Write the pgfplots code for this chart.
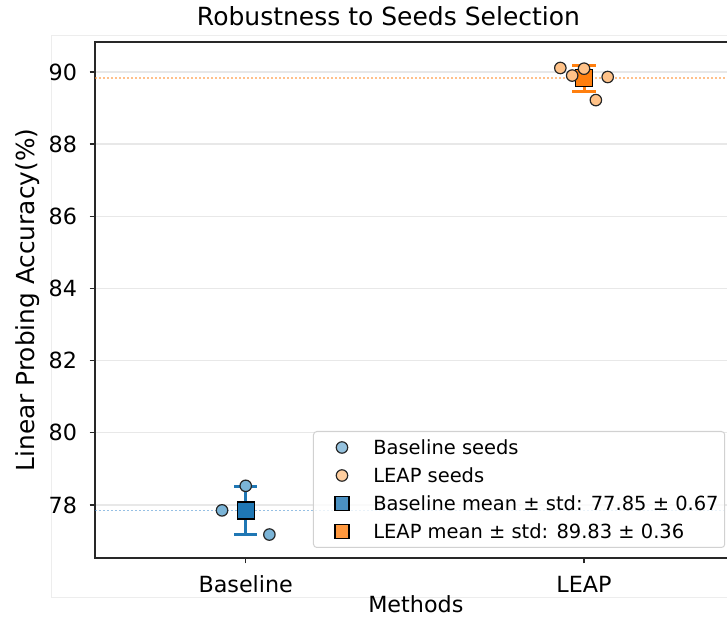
\documentclass[border=0pt]{standalone}
\usepackage{fontspec}
\setmainfont{DejaVu Sans}
\usepackage{pgfplots}
\usepackage{pgfplotstable}
\pgfplotsset{compat=1.18}
\definecolor{tabblue}{RGB}{31,119,180}
\definecolor{taborange}{RGB}{255,127,14}
\definecolor{seedblue}{RGB}{123,180,215}
\definecolor{seedorange}{RGB}{255,194,136}
\definecolor{meanblue}{RGB}{80,150,210}
\definecolor{meanorange}{RGB}{255,150,60}
\definecolor{gridgray}{RGB}{232,232,232}
\definecolor{spine}{RGB}{40,40,40}

\pgfplotstableread{
x y
-0.07 77.85
0.00 78.53
0.07 77.18
}\baselineseeds
\pgfplotstableread{
x y
0.93 90.11
0.965 89.90
1.00 90.09
1.035 89.22
1.07 89.86
}\leapseeds

\pgfplotsset{
  myleg/.style={legend image code/.code={\path (0pt,0pt) (39.5pt,0pt); \draw[##1] plot coordinates {(18.4pt,0pt)};}},
}

\begin{document}
\begin{tikzpicture}[x=1pt,y=1pt]
\path[use as bounding box] (-71.25,-44.25) rectangle (474,418.5);
\draw[black!7, line width=0.75pt] (480,391.5) -- (-32.25,391.5) -- (-32.25,-29.25) -- (480,-29.25);
\begin{axis}[
  at={(0pt,0pt)}, anchor=south west,
  scale only axis, width=480pt, height=387pt,
  xmin=-0.4455, xmax=1.4463, ymin=76.53, ymax=90.83,
  axis line style={spine, line width=1.1pt},
  tick style={spine, line width=1pt},
  tick align=outside, tick pos=left,
  major tick length=4.1pt,
  xtick={0,1}, xticklabels={Baseline,LEAP},
  ytick={78,80,82,84,86,88,90},
  ymajorgrids, grid style={gridgray, line width=1pt},
  /pgf/number format/assume math mode=true,
  ticklabel style={font=\fontsize{16.7}{20}\selectfont},
  xticklabel style={anchor=base, yshift=-21.5pt},
  yticklabel style={anchor=east, inner sep=0pt, xshift=-9.2pt},
  title={Robustness to Seeds Selection},
  title style={at={(axis description cs:0.4586,1.0174)}, anchor=base, font=\fontsize{18.75}{22}\selectfont, inner sep=0pt},
  xlabel={Methods},
  xlabel style={at={(axis description cs:0.5013,-0.106)}, anchor=base, font=\fontsize{16.7}{20}\selectfont, inner sep=0pt},
  ylabel={Linear Probing Accuracy(\%)},
  ylabel style={at={(axis description cs:-0.0938,0.5)}, anchor=base, font=\fontsize{18.6}{22}\selectfont, inner sep=0pt},
  legend cell align=left,
  legend style={
    at={(axis description cs:0.3406,0.0194)}, anchor=south west,
    draw=black!18, line width=0.75pt, rounded corners=2.5pt,
    fill=white, fill opacity=0.8, text opacity=1,
    font=\fontsize{14.6}{17}\selectfont,
    inner xsep=2.6pt, inner ysep=1.5pt,
    row sep=0pt, column sep=0pt,
    nodes={text height=11pt, text depth=0pt, inner ysep=5pt},
  },
]
% mean reference lines
\addplot[meanblue, opacity=0.6, line width=1.2pt, dash pattern=on 1.2pt off 1.8pt, forget plot] coordinates {(-0.4455,77.85) (1.4463,77.85)};
\addplot[meanorange, opacity=0.6, line width=1.2pt, dash pattern=on 1.2pt off 1.8pt, forget plot] coordinates {(-0.4455,89.83) (1.4463,89.83)};
% error bars
\addplot[tabblue, line width=2.25pt, forget plot] coordinates {(0,77.18) (0,78.52)};
\addplot[tabblue, line width=2.25pt, forget plot] coordinates {(-0.0345,77.18) (0.0345,77.18)};
\addplot[tabblue, line width=2.25pt, forget plot] coordinates {(-0.0345,78.52) (0.0345,78.52)};
\addplot[taborange, line width=2.25pt, forget plot] coordinates {(1,89.47) (1,90.19)};
\addplot[taborange, line width=2.25pt, forget plot] coordinates {(0.9655,89.47) (1.0345,89.47)};
\addplot[taborange, line width=2.25pt, forget plot] coordinates {(0.9655,90.19) (1.0345,90.19)};
% means
\addplot[only marks, mark=square*, mark size=6.4pt, mark options={fill=tabblue, draw=black, line width=1pt}, forget plot] coordinates {(0,77.85)};
\addplot[only marks, mark=square*, mark size=6.4pt, mark options={fill=taborange, draw=black, line width=1pt}, forget plot] coordinates {(1,89.83)};
% seeds
\addplot[only marks, mark=*, mark size=4.3pt, mark options={fill=seedblue, draw=black!85, line width=0.9pt}, forget plot] table[x=x, y=y] {\baselineseeds};
\addplot[only marks, mark=*, mark size=4.3pt, mark options={fill=seedorange, draw=black!85, line width=0.9pt}, forget plot] table[x=x, y=y] {\leapseeds};
% legend
\addlegendimage{mark=*, mark size=4.3pt, mark options={fill=seedblue, draw=black!85, line width=0.9pt}, myleg}
\addlegendentry{Baseline seeds}
\addlegendimage{mark=*, mark size=4.3pt, mark options={fill=seedorange, draw=black!85, line width=0.9pt}, myleg}
\addlegendentry{LEAP seeds}
\addlegendimage{mark=square*, mark size=5.2pt, mark options={fill=tabblue, draw=black, line width=0.9pt}, myleg}
\addlegendentry{Baseline mean ± std: 77.85 ± 0.67}
\addlegendimage{mark=square*, mark size=5.2pt, mark options={fill=taborange, draw=black, line width=0.9pt}, myleg}
\addlegendentry{LEAP mean ± std: 89.83 ± 0.36}
\end{axis}
\end{tikzpicture}
\end{document}
